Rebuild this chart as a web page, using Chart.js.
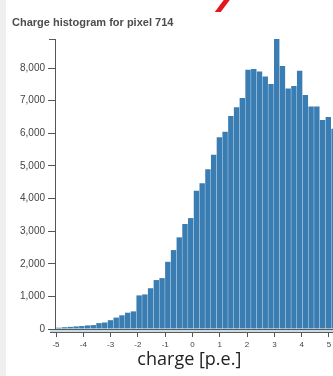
<!DOCTYPE html>
<html>
<head>
<meta charset="utf-8">
<script src="https://cdn.jsdelivr.net/npm/chart.js@4.4.1/dist/chart.umd.min.js"></script>
<style>
  html, body { margin: 0; padding: 0; background: #fff; overflow: hidden; }
  #wrap { position: relative; width: 333px; height: 376px; }
  #strip { position: absolute; left: 0; top: 0; width: 6px; height: 376px; background: #efefef; }
  #title { position: absolute; left: 12px; top: 16px; font: bold 11px "Liberation Sans", Arial, sans-serif; color: #4d4d4d; white-space: nowrap; }
  #mark { position: absolute; left: 220px; top: -2px; width: 6px; height: 14px; background: #e3161c; transform: skewX(-37deg); }
  canvas { position: absolute; left: 0; top: 0; }
</style>
</head>
<body>
<div id="wrap">
  <canvas id="histChart" width="333" height="376"></canvas>
  <div id="strip"></div>
  <div id="title">Charge histogram for pixel 714</div>
  <div id="mark"></div>
</div>
<script>
// histogram bins: start at -5, width 0.21 p.e.
const binStart = -5;
const binWidth = 0.21;
const counts = [
  40, 55, 65, 80, 90, 110, 120, 180, 200, 270,
  350, 420, 500, 540, 1030, 1060, 1250, 1500, 1560, 2060,
  2420, 2810, 3220, 3400, 4240, 4470, 4900, 5340, 5880, 6050,
  6530, 6800, 7080, 7950, 7970, 7890, 7740, 7510, 8890, 8060,
  7370, 7450, 7920, 7170, 6820, 6820, 6410, 6500, 6140
];
const xTicks = [-5, -4, -3, -2, -1, 0, 1, 2, 3, 4, 5];
const yTicks = [0, 1000, 2000, 3000, 4000, 5000, 6000, 7000, 8000];

const points = counts.map((c, i) => ({ x: binStart + binWidth * (i + 0.5), y: c }));

// light band under the bars + outer tick on top of the y axis
const axisDeco = {
  id: 'axisDeco',
  afterDraw(chart) {
    const { ctx, chartArea } = chart;
    const b = chartArea.bottom;
    ctx.save();
    ctx.fillStyle = '#cbdbe4';
    ctx.fillRect(chartArea.left - 5, b, chartArea.right - chartArea.left + 5, 3.5);
    ctx.strokeStyle = '#5a5a5a';
    ctx.lineWidth = 1;
    ctx.beginPath();
    ctx.moveTo(chartArea.left - 5, b + 0.5);
    ctx.lineTo(chartArea.right, b + 0.5);
    ctx.moveTo(chartArea.left - 5, b + 3.5);
    ctx.lineTo(chartArea.right, b + 3.5);
    ctx.moveTo(chartArea.left - 6, chartArea.top + 0.5);
    ctx.lineTo(chartArea.left, chartArea.top + 0.5);
    ctx.stroke();
    ctx.restore();
  }
};

new Chart(document.getElementById('histChart'), {
  type: 'bar',
  data: {
    datasets: [{
      data: points,
      backgroundColor: '#3a7db3',
      borderWidth: 0,
      categoryPercentage: 1,
      barPercentage: 0.94
    }]
  },
  options: {
    responsive: false,
    animation: false,
    layout: { padding: { top: 39, left: 0, right: 0, bottom: 0 } },
    plugins: { legend: { display: false }, tooltip: { enabled: false } },
    scales: {
      x: {
        type: 'linear',
        min: -5.037,
        max: 5.147,
        offset: false,
        grid: { offset: false, drawOnChartArea: false, drawTicks: true, tickLength: 8, color: '#555' },
        border: { display: true, color: '#555', width: 1 },
        afterBuildTicks: s => { s.ticks = xTicks.map(v => ({ value: v })); },
        afterFit: s => { s.height = 47; s.paddingLeft = 0; s.paddingRight = 0; },
        ticks: {
          autoSkip: false,
          maxRotation: 0,
          padding: 3,
          color: '#444',
          font: { family: '"Liberation Sans", Arial, sans-serif', size: 8 }
        },
        title: {
          display: true,
          text: 'charge [p.e.]  ',
          color: '#222',
          font: { family: '"Open Sans", sans-serif', size: 18 },
          padding: { top: 0, bottom: 5 }
        }
      },
      y: {
        min: 0,
        max: Math.max(...counts),
        grid: { drawOnChartArea: false, drawTicks: true, tickLength: 7, color: '#555' },
        border: { display: true, color: '#555', width: 1 },
        afterBuildTicks: s => { s.ticks = yTicks.map(v => ({ value: v })); },
        afterFit: s => { s.width = 55; },
        ticks: {
          padding: 3,
          color: '#444',
          font: { family: '"Liberation Sans", Arial, sans-serif', size: 10 },
          callback: v => v.toLocaleString('en-US')
        }
      }
    }
  },
  plugins: [axisDeco]
});
</script>
</body>
</html>
